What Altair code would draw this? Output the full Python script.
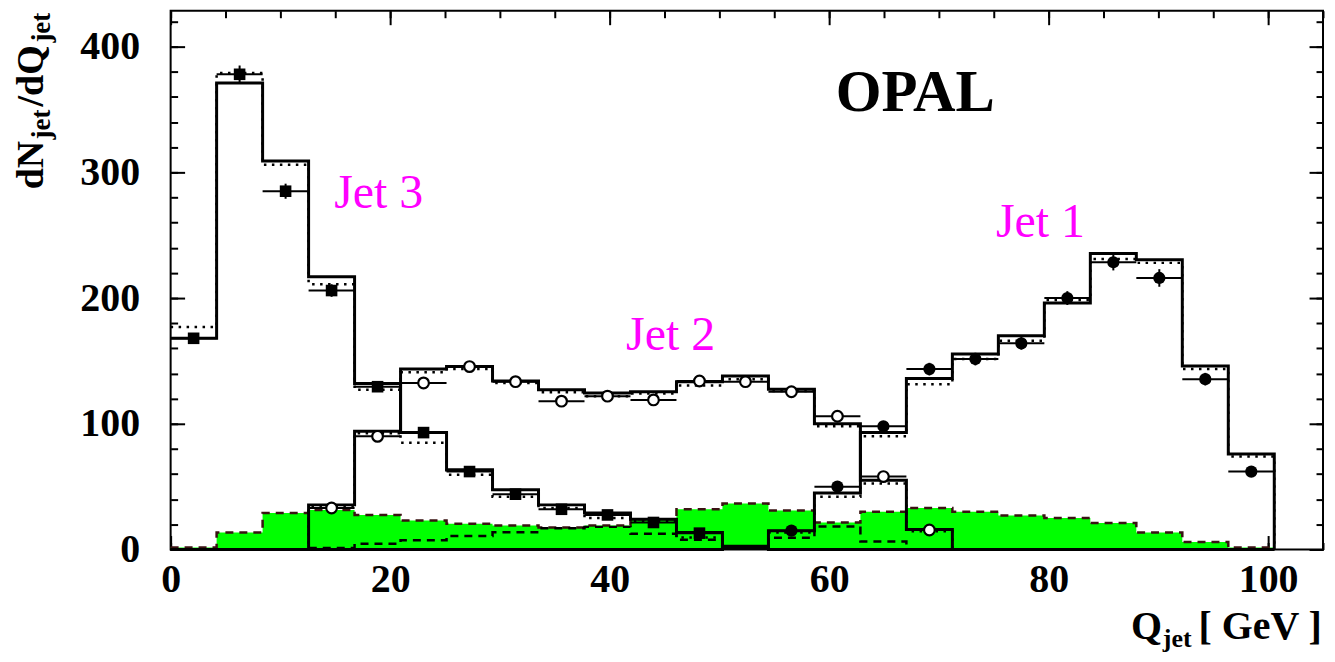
import altair as alt
import numpy as np
import pandas as pd

# ---------------- data ----------------
N_BINS = 24
Q_MAX = 100.56
EDGES = np.linspace(0.0, Q_MAX, N_BINS + 1)
CENTERS = 0.5 * (EDGES[:-1] + EDGES[1:])

# Jet 3 (filled squares)
JET3_MODEL = [168, 371, 309, 217, 132, 93, 63.5, 47.5, 35.5, 29, 24, 13.5, 2.5] + [0.0] * 11
JET3_MODEL2 = [177, 379, 306, 211, 127, 85, 59.5, 42, 33, 25, 22.5, 9.5, 1.0] + [0.0] * 11
JET3_DATA = [168, 378, 285, 206, 129.5, 93, 62, 44, 32, 27.5, 21.5, 13] + [None] * 12
JET3_ERR = [4, 7, 6, 5, 4, 4, 3, 3, 3, 3, 2.5, 2] + [None] * 12

# Jet 2 (open circles)
JET2_MODEL = [0, 0, 0, 35.5, 94, 143.5, 145.5, 134, 127, 124.5, 125.5, 133.5, 138, 127.5, 100, 55, 16] + [0.0] * 7
JET2_MODEL2 = [0, 0, 0, 34, 92.5, 141, 143.5, 132.5, 125, 122, 124, 130.5, 135.5, 126, 98, 52.5, 14.5] + [0.0] * 7
JET2_DATA = [None] * 3 + [33, 90, 132.5, 145.5, 133.5, 118, 122, 119, 134, 133.5, 125.5, 106, 58, 15.5] + [None] * 7
JET2_ERR = [None] * 3 + [2.5, 3.5, 4, 4, 4, 3.5, 3.5, 3.5, 4, 4, 4, 3.5, 3, 2] + [None] * 7

# Jet 1 (filled circles)
JET1_MODEL = [0.0] * 12 + [0.8, 15, 45, 93, 136, 155.5, 170, 196, 235.5, 230.5, 146, 76]
JET1_MODEL2 = [0.0] * 12 + [0.5, 13.5, 42, 90, 131.5, 151.5, 166, 198.5, 231, 228, 143.5, 74]
JET1_DATA = [None] * 13 + [15, 50, 98, 143.5, 151.5, 164, 200, 228.5, 216, 135.5, 62]
JET1_ERR = [None] * 13 + [2, 3, 4, 5, 5, 5, 5.5, 6.5, 7, 5, 4]

# green filled histogram and black dashed histogram
BKG_GREEN = [1.5, 13.5, 29, 31.5, 27.5, 23, 20.5, 19, 17.5, 19, 24, 32, 36.5, 31, 21.5, 30,
             33, 30, 27, 25, 21, 13.5, 6, 1.5]
BKG_DASHED = [0, 0, 0, 1.2, 4.5, 7.3, 10.8, 13.8, 17, 18, 12.5, 7.8, 1.5, 9.3, 18.3, 6.4,
              0, 0, 0, 0, 0, 0, 0, 0]

X_MAJOR = [0, 20, 40, 60, 80, 100]
X_MINOR = list(range(0, 106, 5))
Y_MAJOR = [0, 100, 200, 300, 400]
Y_MINOR = list(range(0, 430, 20))

JET_LABELS = ["Jet 3", "Jet 2", "Jet 1"]
JET_LABEL_X = [14.9, 41.5, 75.2]
JET_LABEL_Y = [271.4, 159.0, 248.6]

# ---------------- styles ----------------
FONT = "Liberation Serif"
X_DOMAIN = [0, 105]
Y_DOMAIN = [0, 428.57]
xs = alt.Scale(domain=X_DOMAIN, nice=False, zero=False)
ys = alt.Scale(domain=Y_DOMAIN, nice=False, zero=False)


def step_frame(series):
    rows = []
    for name, vals in series.items():
        for i, v in enumerate(vals):
            rows.append({"x": float(EDGES[i]), "y": float(v), "s": name})
        rows.append({"x": float(EDGES[-1]), "y": 0.0, "s": name})
    return pd.DataFrame(rows)


solid_df = step_frame({"j3": JET3_MODEL, "j2": JET2_MODEL, "j1": JET1_MODEL})
dotted_df = step_frame({"j3": JET3_MODEL2, "j2": JET2_MODEL2, "j1": JET1_MODEL2})
green_df = step_frame({"g": BKG_GREEN})
dashed_df = step_frame({"d": BKG_DASHED})


def points_frame(vals, errs, name):
    rows = []
    for i, (v, e) in enumerate(zip(vals, errs)):
        if v is None:
            continue
        rows.append({"xc": float(CENTERS[i]), "xl": float(EDGES[i]), "xh": float(EDGES[i + 1]),
                     "y": float(v), "yl": float(v - e), "yh": float(v + e), "s": name})
    return pd.DataFrame(rows)


pts = pd.concat([points_frame(JET3_DATA, JET3_ERR, "j3"),
                 points_frame(JET2_DATA, JET2_ERR, "j2"),
                 points_frame(JET1_DATA, JET1_ERR, "j1")], ignore_index=True)

X = lambda f: alt.X(f, type="quantitative", scale=xs, axis=None)
Y = lambda f: alt.Y(f, type="quantitative", scale=ys, axis=None)

green_area = alt.Chart(green_df).mark_area(interpolate="step-after", color="#00ff00").encode(
    x=X("x"), y=Y("y"))
green_line = alt.Chart(green_df).mark_line(interpolate="step-after", color="#3a1212",
                                           strokeDash=[8, 6], strokeWidth=2.5).encode(x=X("x"), y=Y("y"))
dashed_line = alt.Chart(dashed_df).mark_line(interpolate="step-after", color="black",
                                             strokeDash=[8, 6], strokeWidth=2.5).encode(x=X("x"), y=Y("y"))
dotted_lines = alt.Chart(dotted_df).mark_line(interpolate="step-after", color="black",
                                              strokeDash=[2.5, 5.5], strokeWidth=2.5).encode(
    x=X("x"), y=Y("y"), detail="s:N")
solid_lines = alt.Chart(solid_df).mark_line(interpolate="step-after", color="black",
                                            strokeWidth=3).encode(x=X("x"), y=Y("y"), detail="s:N")

err_h = alt.Chart(pts).mark_rule(color="black", strokeWidth=2).encode(
    x=X("xl"), x2="xh:Q", y=Y("y"))
err_v = alt.Chart(pts).mark_rule(color="black", strokeWidth=2).encode(
    x=X("xc"), y=Y("yl"), y2="yh:Q")

sq = alt.Chart(pts).transform_filter(alt.datum.s == "j3").mark_point(
    shape="square", filled=True, color="black", size=135, opacity=1).encode(x=X("xc"), y=Y("y"))
fc = alt.Chart(pts).transform_filter(alt.datum.s == "j1").mark_point(
    shape="circle", filled=True, color="black", size=150, opacity=1).encode(x=X("xc"), y=Y("y"))
oc = alt.Chart(pts).transform_filter(alt.datum.s == "j2").mark_point(
    shape="circle", filled=True, fill="white", stroke="black", strokeWidth=2.2, size=115,
    opacity=1).encode(x=X("xc"), y=Y("y"))

jet_df = pd.DataFrame({"x": JET_LABEL_X, "y": JET_LABEL_Y, "t": JET_LABELS})
jet_text = alt.Chart(jet_df).mark_text(font=FONT, fontSize=48, color="#ff00ff", align="left",
                                       baseline="alphabetic").encode(x=X("x"), y=Y("y"), text="t:N")

opal_df = pd.DataFrame({"x": [60.6], "y": [349.2], "t": ["OPAL"]})
opal_text = alt.Chart(opal_df).mark_text(font=FONT, fontSize=59, fontWeight="bold", color="black",
                                         align="left", baseline="alphabetic").encode(
    x=X("x"), y=Y("y"), text="t:N")

# axis titles with subscripts
xt_main = pd.DataFrame({"x": [87.5], "y": [-71.4], "t": ["Q"]})
xt_sub = pd.DataFrame({"x": [90.4], "y": [-77.5], "t": ["jet"]})
xt_unit = pd.DataFrame({"x": [104.9], "y": [-71.4], "t": ["[ GeV ]"]})
x_title = (
    alt.Chart(xt_main).mark_text(font=FONT, fontSize=40, fontWeight="bold", align="left",
                                 baseline="alphabetic", color="black").encode(x=X("x"), y=Y("y"), text="t:N")
    + alt.Chart(xt_sub).mark_text(font=FONT, fontSize=26, fontWeight="bold", align="left",
                                  baseline="alphabetic", color="black").encode(x=X("x"), y=Y("y"), text="t:N")
    + alt.Chart(xt_unit).mark_text(font=FONT, fontSize=40, fontWeight="bold", align="right",
                                   baseline="alphabetic", color="black").encode(x=X("x"), y=Y("y"), text="t:N")
)

yt_main = pd.DataFrame({"x": [-11.64, -11.64], "y": [286.5, 352.4], "t": ["dN", "/dQ"]})
yt_sub = pd.DataFrame({"x": [-11.0, -11.0], "y": [326.2, 403.2], "t": ["jet", "jet"]})
y_title = (
    alt.Chart(yt_main).mark_text(font=FONT, fontSize=38, fontWeight="bold", align="left", angle=270,
                                 baseline="alphabetic", color="black").encode(x=X("x"), y=Y("y"), text="t:N")
    + alt.Chart(yt_sub).mark_text(font=FONT, fontSize=27, fontWeight="bold", align="left", angle=270,
                                  baseline="alphabetic", color="black").encode(x=X("x"), y=Y("y"), text="t:N")
)


# axes: ticks drawn inward on all four sides
def make_axis(values, size, orient, labels, pad):
    return alt.Axis(values=values, tickSize=size, offset=-size, orient=orient, labels=labels,
                    domain=False, grid=False, title=None, ticks=True, tickColor="black", tickWidth=2,
                    labelFont=FONT, labelFontSize=40, labelFontWeight="bold", labelColor="black",
                    labelPadding=pad, labelFlush=False, labelOverlap=False)


carrier_df = pd.DataFrame({"x": [0.0], "y": [0.0]})


def carrier(xaxis, yaxis):
    return alt.Chart(carrier_df).mark_point(opacity=0).encode(
        x=alt.X("x:Q", scale=xs, axis=xaxis), y=alt.Y("y:Q", scale=ys, axis=yaxis))


ax1 = carrier(make_axis(X_MAJOR, 14, "bottom", True, 10), make_axis(Y_MAJOR, 14, "left", True, 31))
ax2 = carrier(make_axis(X_MINOR, 7, "bottom", False, 0), make_axis(Y_MINOR, 7, "left", False, 0))
ax3 = carrier(make_axis(X_MAJOR, 14, "top", False, 0), make_axis(Y_MAJOR, 14, "right", False, 0))
ax4 = carrier(make_axis(X_MINOR, 7, "top", False, 0), make_axis(Y_MINOR, 7, "right", False, 0))

chart = alt.layer(
    green_area, green_line, dashed_line, dotted_lines, solid_lines,
    err_h, err_v, sq, fc, oc, jet_text, opal_text, x_title, y_title,
    ax1, ax2, ax3, ax4,
).resolve_axis(x="independent", y="independent").properties(
    width=1155, height=540,
    autosize=alt.AutoSizeParams(type="none"),
    padding={"left": 163, "top": 2, "right": 4, "bottom": 104},
    background="white",
).configure_view(stroke="black", strokeWidth=2)

chart.save("out.html", embed_options={"renderer": "svg", "actions": False})
